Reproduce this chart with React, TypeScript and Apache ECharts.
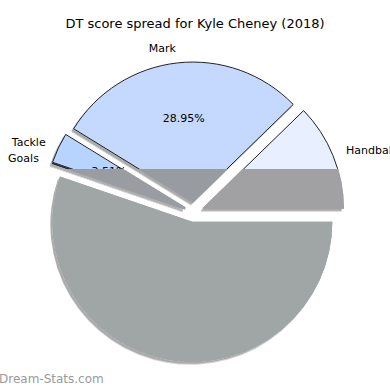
import React, { useEffect, useRef } from "react";
import * as echarts from "echarts";

const titleText = "DT score spread for Kyle Cheney (2018)";
const watermarkText = "Dream-Stats.com";
const categories = ["Handball", "Mark", "Tackle", "Goals", "Kick"];
const scores = [14, 33, 4, 0, 63];
const outerLabels = ["Handball", "Mark", "Tackle", "Goals", ""];
const showPct = [false, true, true, false, false];
const topColors = ["#e8f0ff", "#c5d9ff", "#b6d4ff", "#b6d4ff", "#a0a5a5"];
const bandColors = ["#a1a1a3", "#989ba0", "#999ca1", "#999ca1", "#a0a5a5"];

const FONT = "DejaVu Sans";
const W = 390;
const H = 390;
const CX = 194;
const CY = 212;
const R = 140;
const OFF = 10;
const BAND = 169;

export default function App() {
  const ref = useRef<HTMLDivElement>(null);
  useEffect(() => {
    if (!ref.current) return;
    const chart = echarts.init(ref.current, undefined, { renderer: "svg", width: W, height: H });
    const total = scores.reduce((a, b) => a + b, 0);
    let acc = 0;
    const mids = scores.map((v) => {
      const m = ((acc + v / 2) / total) * 360;
      acc += v;
      return m;
    });
    const grad = (i: number, top: string, bottom: string) => {
      const local = BAND + OFF * Math.sin((mids[i] * Math.PI) / 180);
      const t = local / H;
      return new echarts.graphic.LinearGradient(
        0, 0, 0, H,
        [
          { offset: 0, color: top },
          { offset: t, color: top },
          { offset: t, color: bottom },
          { offset: 1, color: bottom },
        ],
        true
      );
    };
    const isBig = (i: number) => i === scores.length - 1;
    const sliceData = scores.map((v, i) => {
      const itemStyle = {
        color: grad(i, topColors[i], bandColors[i]),
        borderColor: isBig(i) ? "rgba(0,0,0,0)" : grad(i, "#222", bandColors[i]),
        borderWidth: isBig(i) ? 0 : 1,
        shadowColor: "rgba(0,0,0,0.33)",
        shadowOffsetX: -2,
        shadowOffsetY: 2.5,
        shadowBlur: 0,
      };
      return { name: categories[i], value: v, selected: true, itemStyle, select: { itemStyle } };
    });
    const pctData = scores.map((v, i) => ({ name: categories[i], value: v, selected: true }));
    const overlayData = scores.map((v, i) => {
      const itemStyle = {
        color: grad(i, "rgba(255,255,255,0)", bandColors[i]),
        borderColor: grad(i, "rgba(255,255,255,0)", bandColors[i]),
        borderWidth: isBig(i) ? 0 : 1.5,
      };
      return { name: categories[i], value: v, selected: true, itemStyle, select: { itemStyle } };
    });
    const pieBase = {
      type: "pie",
      center: [CX, CY],
      startAngle: 0,
      clockwise: false,
      selectedMode: "multiple",
      selectedOffset: OFF,
      avoidLabelOverlap: false,
      emphasis: { disabled: true },
    };
    chart.setOption({
      animation: false,
      title: {
        text: titleText,
        left: "center",
        top: 17,
        padding: 0,
        textStyle: { fontFamily: FONT, fontSize: 13, fontWeight: "normal", color: "#000" },
      },
      graphic: [
        {
          type: "text",
          left: -1,
          top: 373,
          style: { text: watermarkText, fill: "#9a9a9a", font: `12px "${FONT}"` },
        },
      ],
      series: [
        {
          ...pieBase,
          radius: [0, R],
          label: {
            show: true,
            position: "outside",
            fontFamily: FONT,
            fontSize: 11,
            color: "#000",
            distanceToLabelLine: 0,
            formatter: (p: any) => outerLabels[p.dataIndex],
          },
          labelLine: { show: false, length: 0.1 * R, length2: 0 },
          data: sliceData,
        },
        {
          ...pieBase,
          radius: [0, 2 * (0.6 * R - 3)],
          silent: true,
          itemStyle: { color: "rgba(0,0,0,0)", borderWidth: 0 },
          label: {
            show: true,
            position: "inside",
            fontFamily: FONT,
            fontSize: 11,
            color: "#000",
            formatter: (p: any) =>
              showPct[p.dataIndex] ? ((scores[p.dataIndex] / total) * 100).toFixed(2) + "%" : "",
          },
          labelLine: { show: false },
          data: pctData,
        },
        {
          ...pieBase,
          z: 5,
          radius: [0, R],
          silent: true,
          label: { show: false },
          labelLine: { show: false },
          data: overlayData,
        },
      ],
    });
    return () => chart.dispose();
  }, []);
  return (
    <div
      ref={ref}
      style={{ position: "fixed", left: 0, top: 0, width: W, height: H, background: "#fff" }}
    />
  );
}
